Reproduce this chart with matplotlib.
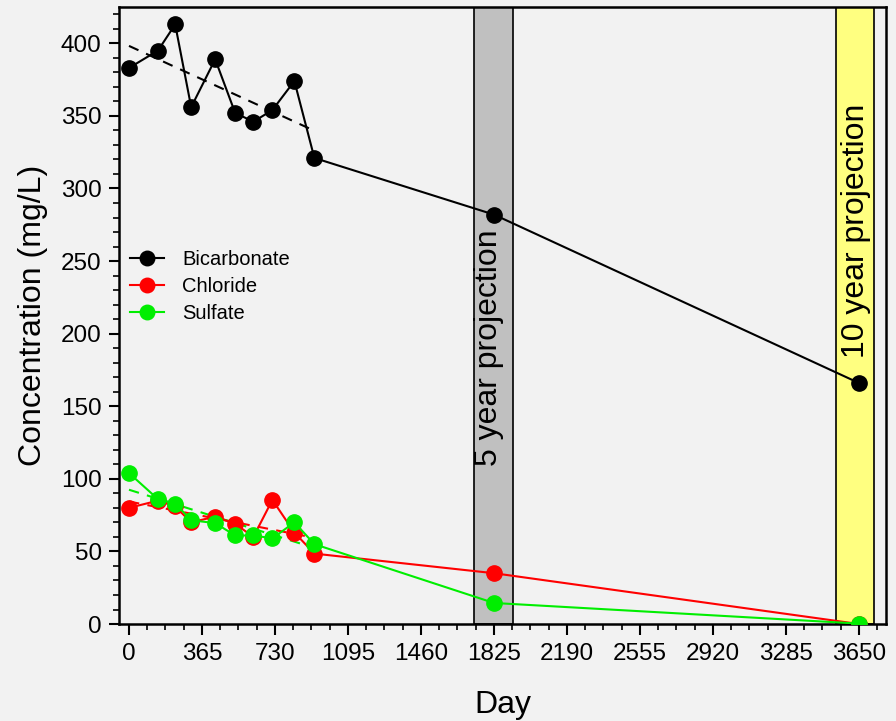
import matplotlib
matplotlib.use("Agg")
import matplotlib.pyplot as plt
import numpy as np

plt.rcParams['font.family'] = ['Liberation Sans', 'DejaVu Sans']

# ---- data
day = [0, 145, 231, 311, 431, 531, 622, 717, 827, 927, 1825, 3650]
bicarbonate = [383, 395, 413, 356, 389, 352, 346, 354, 374, 321, 282, 166]
chloride = [80, 85, 81, 70, 74, 69, 60, 85.5, 63, 48.5, 35, 0]
sulfate = [104, 86, 83, 71.5, 69.5, 61, 61, 59, 70, 55, 14.5, 0.3]
n_measured = 10  # trend lines only over the measured points

series_names = ['Bicarbonate', 'Chloride', 'Sulfate']
series_colors = ['black', '#ff0000', '#00ee00']

proj_labels = ['5 year projection', '10 year projection']
proj_spans = [(1725, 1920), (3535, 3725)]
proj_colors = ['#c0c0c0', '#ffff80']
proj_text_y = [190, 271]
proj_text_x = [1800, 3635]

xticks = [0, 365, 730, 1095, 1460, 1825, 2190, 2555, 2920, 3285, 3650]

bg = '#f2f2f2'

fig = plt.figure(figsize=(8.96, 7.21), dpi=100, facecolor=bg)
ax = fig.add_axes([0.1328, 0.1345, 0.8560, 0.8558], facecolor=bg)

# projection bands
for (a, b), c in zip(proj_spans, proj_colors):
    ax.axvspan(a, b, facecolor=c, edgecolor='black', linewidth=1.2, zorder=1)
for lab, tx, ty in zip(proj_labels, proj_text_x, proj_text_y):
    ax.text(tx, ty, lab, rotation=90, ha='center', va='center', fontsize=23, zorder=2)

# data + trends
for name, vals, col in zip(series_names, [bicarbonate, chloride, sulfate], series_colors):
    ax.plot(day, vals, '-', color=col, lw=1.5, marker='o', ms=11,
            markeredgecolor=col, label=name, zorder=4)
    k, b0 = np.polyfit(day[:n_measured], vals[:n_measured], 1)
    xx = np.array([day[0], day[n_measured - 1]])
    ax.plot(xx, k * xx + b0, '--', color=col, lw=1.5, dashes=(5, 4), zorder=3)

ax.set_xticks(xticks)
ax.set_xticks(np.arange(-91.25, 3790, 91.25), minor=True)
ax.set_yticks(np.arange(0, 401, 50))
ax.set_yticks(np.arange(0, 425, 10), minor=True)
ax.set_xlim(-50, 3785)
ax.set_ylim(0, 425)

ax.tick_params(axis='both', which='major', labelsize=17.5, width=1.5, direction='out')
ax.tick_params(axis='x', which='major', length=8, pad=6)
ax.tick_params(axis='y', which='major', length=7.5, pad=5)
ax.tick_params(axis='x', which='minor', length=4, width=1.2)
ax.tick_params(axis='y', which='minor', length=4, width=1.2)
for s in ax.spines.values():
    s.set_linewidth(1.8)

ax.set_xlabel('Day', fontsize=23, labelpad=18)
ax.set_ylabel('Concentration (mg/L)', fontsize=23, labelpad=9)

ax.legend(loc='upper left', bbox_to_anchor=(0.0143, 0.606), frameon=False,
          fontsize=14.5, markerscale=0.95, handlelength=1.7, handletextpad=0.9,
          labelspacing=0.4, borderpad=0, borderaxespad=0)

fig.savefig('out.png', dpi=100, facecolor=bg)
